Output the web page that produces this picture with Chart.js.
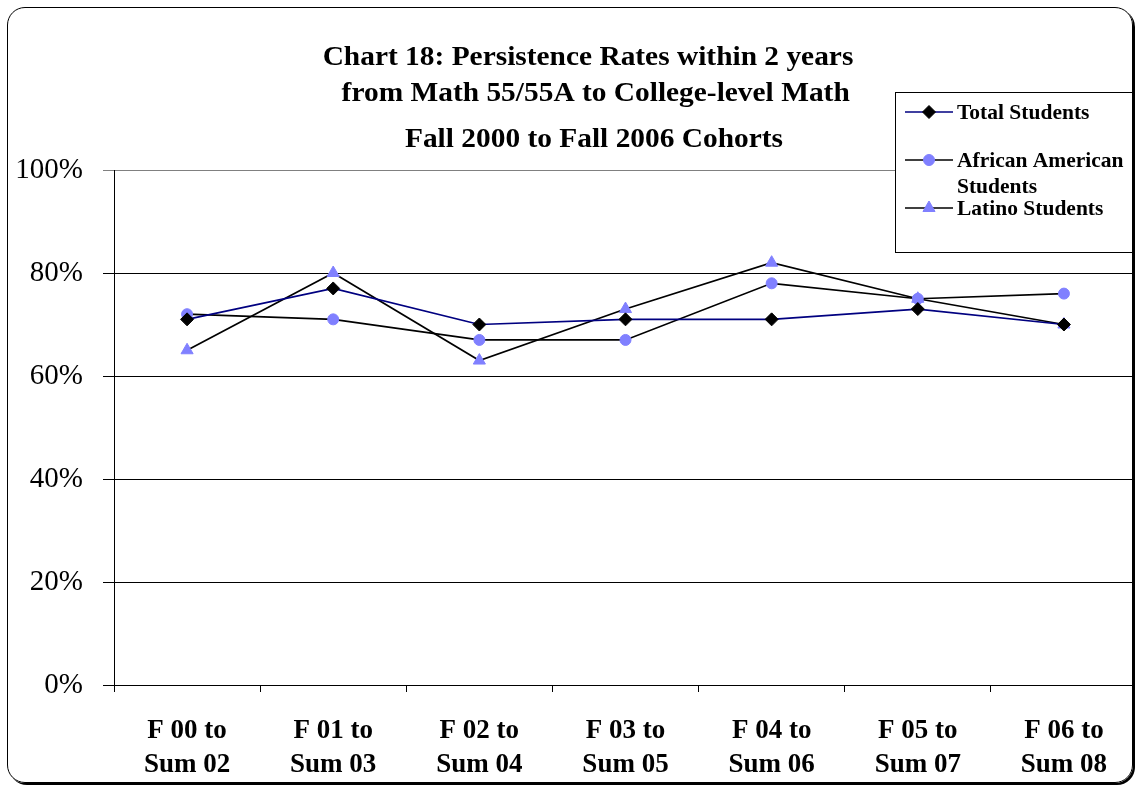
<!DOCTYPE html>
<html>
<head>
<meta charset="utf-8">
<script src="https://cdn.jsdelivr.net/npm/chart.js@4.4.1/dist/chart.umd.min.js"></script>
<style>
  html, body { margin: 0; padding: 0; background: #fff; overflow: hidden; }
  #wrap { position: relative; width: 1135px; height: 786px; overflow: hidden; }
  #frame {
    position: absolute; left: 7px; top: 7px; width: 1124px; height: 774px;
    border: 1px solid #000; border-radius: 18px; box-shadow: 2px 2px 0 #000;
    pointer-events: none;
  }
  #cv { position: absolute; left: 0; top: 0; }
</style>
</head>
<body>
<div id="wrap">
  <canvas id="cv" width="1145" height="786"></canvas>
  <div id="frame"></div>
</div>
<script>
// Cohort windows (two-line category labels)
const categories = [
  ['F 00 to', 'Sum 02'],
  ['F 01 to', 'Sum 03'],
  ['F 02 to', 'Sum 04'],
  ['F 03 to', 'Sum 05'],
  ['F 04 to', 'Sum 06'],
  ['F 05 to', 'Sum 07'],
  ['F 06 to', 'Sum 08']
];

// Persistence rates (%)
const totalStudents = [71, 77, 70, 71, 71, 73, 70];
const africanAmericanStudents = [72, 71, 67, 67, 78, 75, 76];
const latinoStudents = [65, 80, 63, 73, 82, 75, 70];

const yTicks = [0, 20, 40, 60, 80, 100];

const titleLines = [
  'Chart 18: Persistence Rates within 2 years',
  ' from Math 55/55A to College-level Math',
  'Fall 2000 to Fall 2006 Cohorts'
];

const SERIF = '"Liberation Serif", "Times New Roman", serif';
const MARKER = '#8080FF';

const datasets = [
  {
    label: 'Total Students',
    data: totalStudents,
    borderColor: '#000080',
    borderWidth: 1.7,
    pointStyle: 'rectRot',
    pointRadius: 6.5,
    pointBackgroundColor: '#000',
    pointBorderColor: '#000',
    pointBorderWidth: 1
  },
  {
    label: 'African American Students',
    legendLines: ['African American', 'Students'],
    data: africanAmericanStudents,
    borderColor: '#000',
    borderWidth: 1.7,
    pointStyle: 'circle',
    pointRadius: 5.5,
    pointBackgroundColor: MARKER,
    pointBorderColor: MARKER,
    pointBorderWidth: 1
  },
  {
    label: 'Latino Students',
    data: latinoStudents,
    borderColor: '#000',
    borderWidth: 1.7,
    pointStyle: 'triangle',
    pointRadius: 7,
    pointBackgroundColor: MARKER,
    pointBorderColor: MARKER,
    pointBorderWidth: 1
  }
];

// Title block and boxed legend drawn on the canvas
const decorations = {
  id: 'decorations',
  afterDraw(chart) {
    const ctx = chart.ctx;
    ctx.save();
    // title (slightly widened serif face)
    ctx.fillStyle = '#000';
    ctx.font = 'bold 28px ' + SERIF;
    ctx.textAlign = 'center';
    ctx.textBaseline = 'middle';
    const titleY = [58, 94, 140];
    const titleX = [588, 592, 594];
    titleLines.forEach((t, i) => {
      ctx.save();
      ctx.translate(titleX[i], titleY[i]);
      ctx.scale(1.05, 1);
      ctx.fillText(t, 0, 0);
      ctx.restore();
    });

    // legend box
    const bx = 895.5, by = 92.5, bw = 239, bh = 160;
    ctx.fillStyle = '#fff';
    ctx.fillRect(bx, by, bw, bh);
    ctx.strokeStyle = '#000';
    ctx.lineWidth = 1;
    ctx.strokeRect(bx, by, bw, bh);

    const rowY = [112, 160, 208];
    ctx.font = 'bold 21.5px ' + SERIF;
    ctx.textAlign = 'left';
    chart.data.datasets.forEach((ds, i) => {
      const y = rowY[i];
      ctx.strokeStyle = ds.borderColor;
      ctx.lineWidth = ds.borderWidth;
      ctx.beginPath();
      ctx.moveTo(905, y);
      ctx.lineTo(953, y);
      ctx.stroke();
      ctx.fillStyle = ds.pointBackgroundColor;
      ctx.strokeStyle = ds.pointBorderColor;
      ctx.lineWidth = 1;
      Chart.helpers.drawPoint(ctx, {
        pointStyle: ds.pointStyle,
        radius: ds.pointRadius,
        borderWidth: 1,
        rotation: 0
      }, 929, y);
      ctx.fillStyle = '#000';
      const lines = ds.legendLines || [ds.label];
      lines.forEach((l, j) => ctx.fillText(l, 957, y + 1 + j * 26));
    });
    ctx.restore();
  }
};

new Chart(document.getElementById('cv'), {
  type: 'line',
  data: { labels: categories, datasets },
  plugins: [decorations],
  options: {
    responsive: false,
    animation: false,
    events: [],
    layout: { padding: { top: 170, right: 7, left: 0, bottom: 0 } },
    plugins: {
      legend: { display: false },
      title: { display: false },
      tooltip: { enabled: false }
    },
    elements: { line: { tension: 0 } },
    scales: {
      x: {
        offset: true,
        grid: {
          display: true,
          offset: true,
          drawOnChartArea: false,
          drawTicks: true,
          tickLength: 7,
          color: '#000'
        },
        border: { display: true, color: '#000', width: 1 },
        ticks: {
          color: '#000',
          font: { family: SERIF, size: 27, weight: 'bold', lineHeight: 1.26 },
          padding: 22,
          maxRotation: 0,
          autoSkip: false
        },
        afterFit(scale) { scale.height = 101; }
      },
      y: {
        min: 0,
        max: 100,
        afterBuildTicks(scale) { scale.ticks = yTicks.map(v => ({ value: v })); },
        grid: {
          color: ctx => (ctx.tick && ctx.tick.value === 100 ? '#808080' : '#000'),
          lineWidth: 1,
          drawTicks: true,
          tickLength: 11
        },
        border: { display: true, color: '#000', width: 1 },
        ticks: {
          color: '#000',
          font: { family: SERIF, size: 29 },
          padding: 20,
          callback: v => v + '%'
        },
        afterFit(scale) { scale.width = 114; }
      }
    }
  }
});
</script>
</body>
</html>
